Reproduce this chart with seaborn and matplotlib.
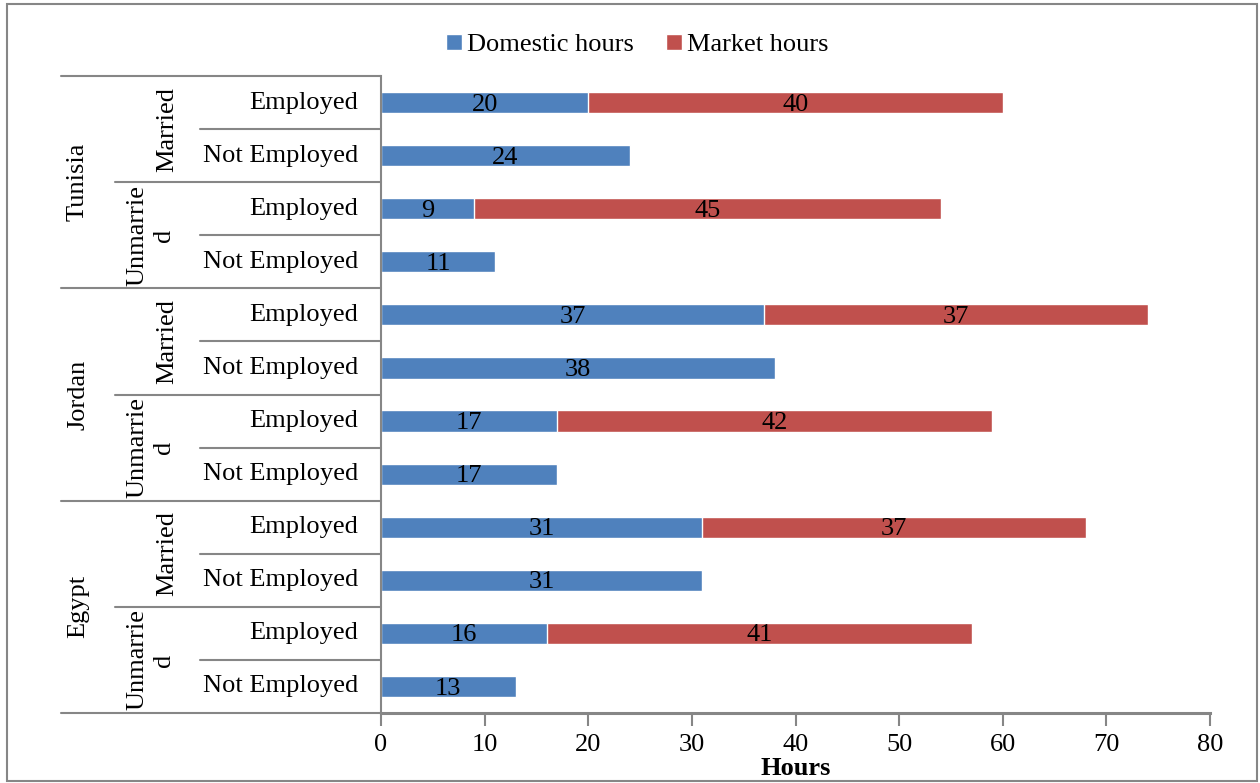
import numpy as np
import pandas as pd
import matplotlib.pyplot as plt
import seaborn as sns
from matplotlib.patches import Rectangle

# Data, top to bottom as drawn
countries = ["Tunisia", "Jordan", "Egypt"]
marital = ["Married", "Unmarrie\nd"]
employment = ["Employed", "Not Employed"]
domestic = [20, 24, 9, 11, 37, 38, 17, 17, 31, 31, 16, 13]
market = [40, 0, 45, 0, 37, 0, 42, 0, 37, 0, 41, 0]

rows = [(c, m, e) for c in countries for m in marital for e in employment]
df = pd.DataFrame({
    "row": ["|".join(r) for r in rows],
    "domestic": domestic,
    "market": market,
})
df["total"] = df["domestic"] + df["market"]

blue = "#4F81BD"
red = "#C0504D"
grey = "#868686"

sns.set_style("white")
plt.rcParams["font.family"] = ["Liberation Serif", "DejaVu Serif"]
plt.rcParams["text.color"] = "black"
plt.rcParams["xtick.labelcolor"] = "black"
plt.rcParams["axes.labelcolor"] = "black"

fig = plt.figure(figsize=(12.6, 7.83), dpi=100)
ax = fig.add_axes([381 / 1260, 1 - 713 / 783, 829 / 1260, 637 / 783])

# stacked bars: total (red) underneath, domestic (blue) on top
sns.barplot(data=df, x="total", y="row", orient="h", color=red, width=0.4,
            saturation=1, ax=ax, label="Market hours")
sns.barplot(data=df, x="domestic", y="row", orient="h", color=blue, width=0.4,
            saturation=1, ax=ax, label="Domestic hours")
if ax.get_legend() is not None:
    ax.get_legend().remove()

fs = 19
for i, r in df.iterrows():
    ax.text(r["domestic"] / 2, i + 0.04, str(r["domestic"]), ha="center", va="center", fontsize=fs)
    if r["market"] > 0:
        ax.text(r["domestic"] + r["market"] / 2, i + 0.04, str(r["market"]),
                ha="center", va="center", fontsize=fs)

ax.set_xlim(0, 80)
ax.set_xticks(np.arange(0, 81, 10))
ax.set_ylim(len(df) - 0.5, -0.5)
ax.set_yticks([])
ax.set_ylabel("")
ax.set_xlabel("Hours", fontsize=fs, fontweight="bold", labelpad=1)
ax.tick_params(axis="x", labelsize=fs, direction="out", length=9, width=1.5,
               color=grey, pad=6, bottom=True)
for s in ["top", "right"]:
    ax.spines[s].set_visible(False)
ax.spines["bottom"].set_color(grey)
ax.spines["bottom"].set_linewidth(2.2)
ax.spines["left"].set_color(grey)
ax.spines["left"].set_linewidth(1.5)

# multi-level category table on the left
tr = ax.get_yaxis_transform()
x1, x2, x3 = (61 - 381) / 829, (115 - 381) / 829, (200 - 381) / 829
n = len(df)
for k in range(n + 1):
    y = k - 0.5
    if k % 4 == 0:
        xs = x1
    elif k % 2 == 0:
        xs = x2
    else:
        xs = x3
    ax.plot([xs, 0], [y, y], transform=tr, color=grey, lw=1.5, clip_on=False)

for i, (c, m, e) in enumerate(rows):
    ax.text(-0.028, i, e, transform=tr, ha="right", va="center", fontsize=fs)
for ci, c in enumerate(countries):
    ax.text(-0.3655, ci * 4 + 1.5, c, transform=tr, rotation=90, ha="center",
            va="center", fontsize=fs)
    for mi, m in enumerate(marital):
        xm = -0.258 if mi == 0 else -0.278
        ax.text(xm, ci * 4 + mi * 2 + 0.5, m, transform=tr, rotation=90,
                ha="center", va="center", fontsize=fs, multialignment="center",
                linespacing=1.25)

# legend, Domestic first
handles, labels = ax.get_legend_handles_labels()
order = [labels.index("Domestic hours"), labels.index("Market hours")]
fig.legend([handles[j] for j in order], [labels[j] for j in order],
           loc="center", bbox_to_anchor=(0.506, 0.9425), ncol=2, frameon=False,
           fontsize=fs, handlelength=0.6, handleheight=0.6, handletextpad=0.2,
           columnspacing=1.22)

# outer border
fig.patches.append(Rectangle((7 / 1260, 2 / 783), 1250 / 1260, 777 / 783,
                             transform=fig.transFigure, fill=False,
                             edgecolor=grey, lw=1.5))

fig.savefig("out.png", dpi=100)
